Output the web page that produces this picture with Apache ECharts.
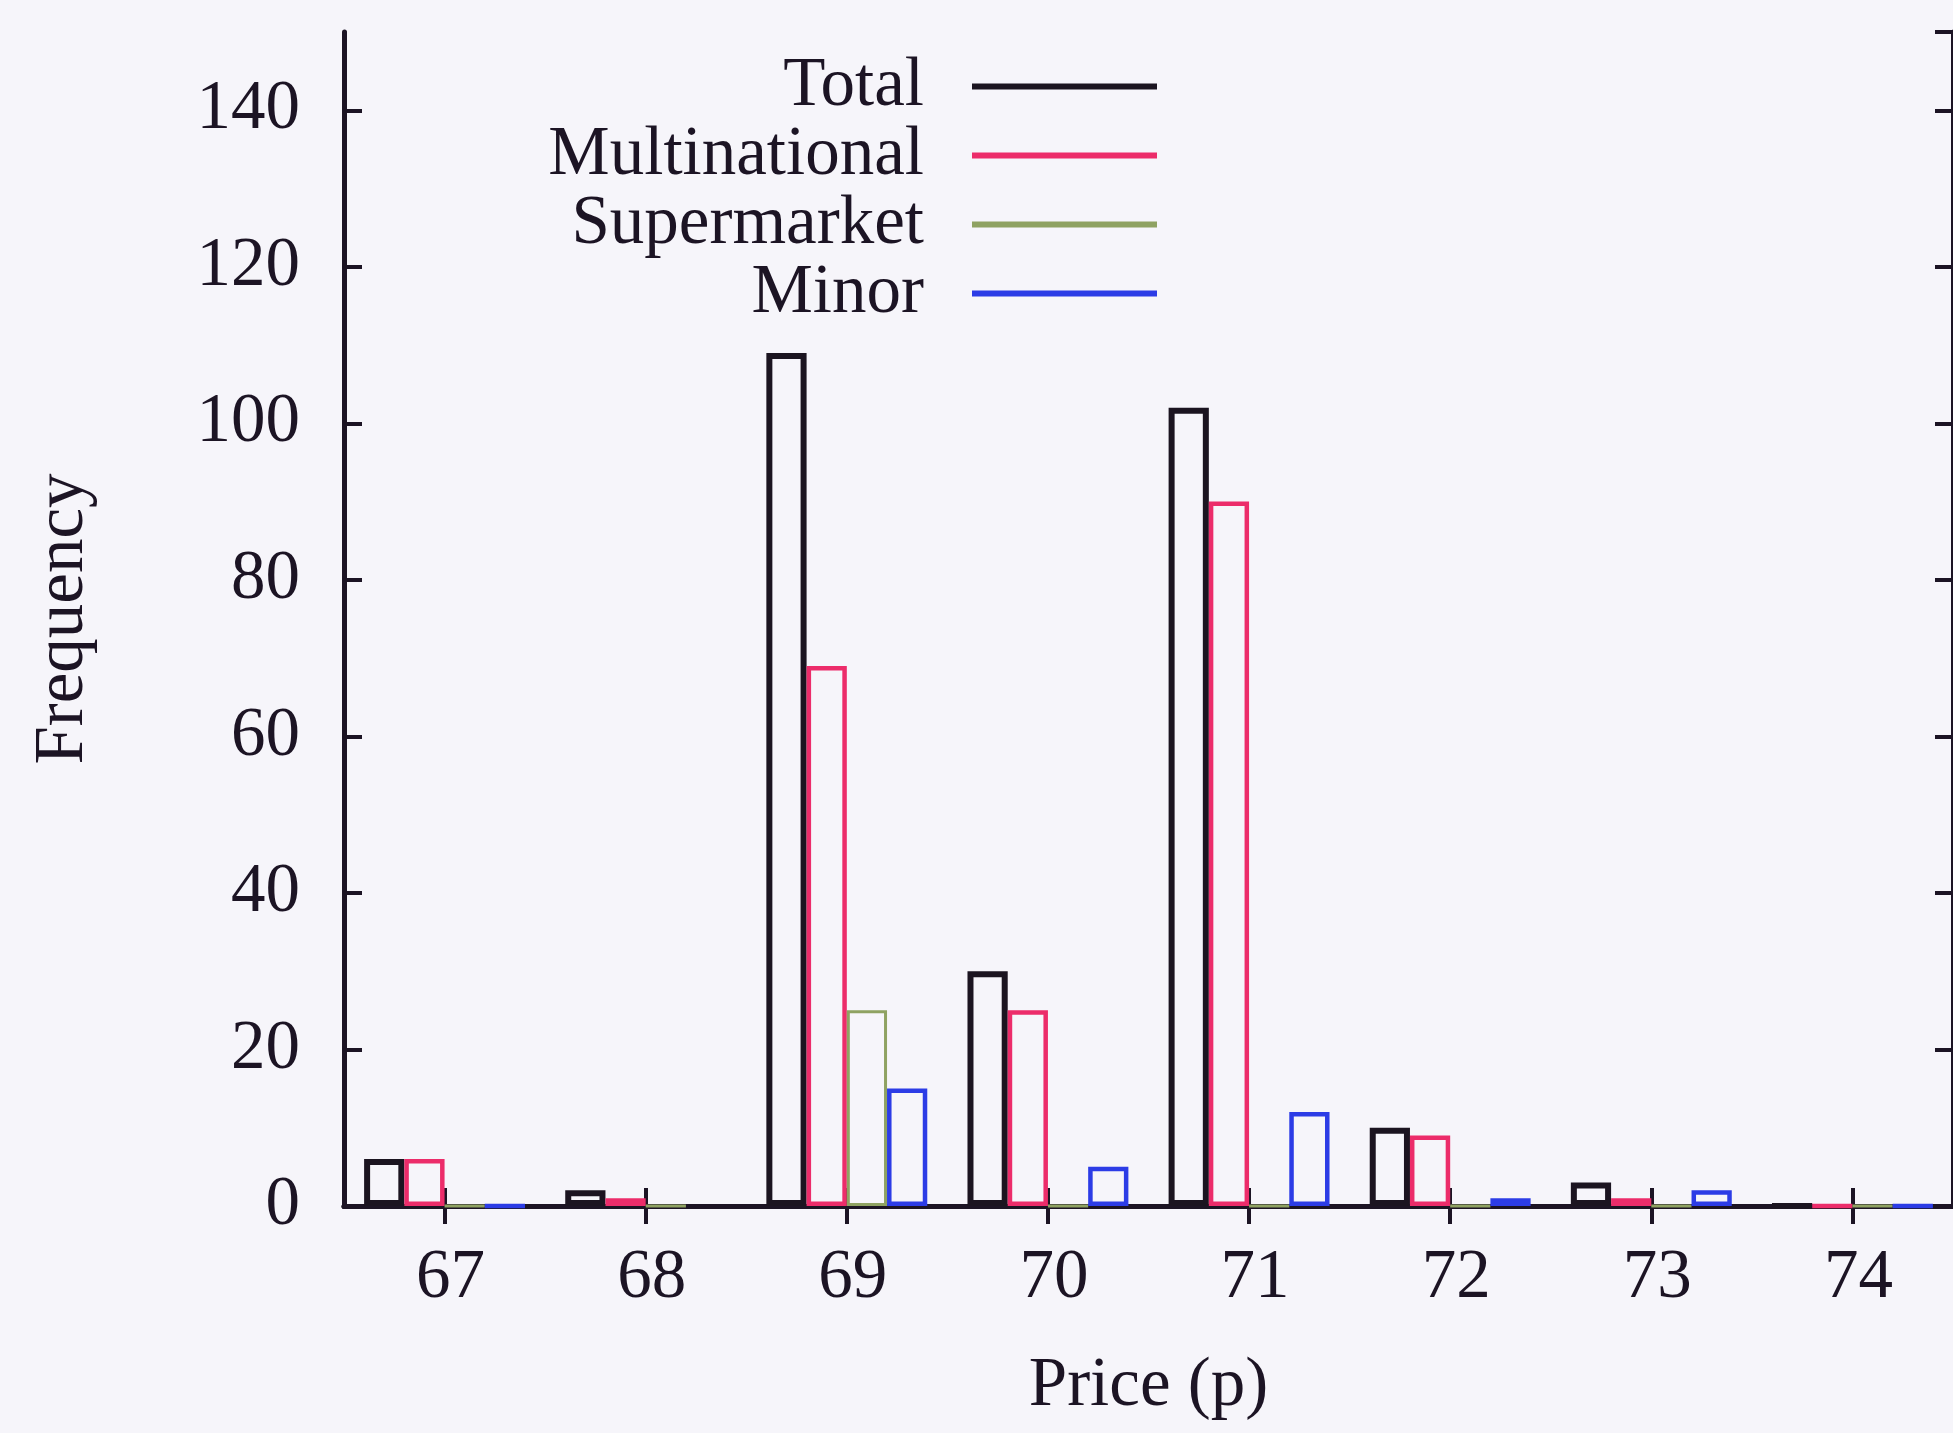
<!DOCTYPE html>
<html>
<head>
<meta charset="utf-8">
<script src="https://cdn.jsdelivr.net/npm/echarts@6/dist/echarts.min.js"></script>
<style>
  html, body { margin: 0; padding: 0; background: #f6f5fa; }
  #chart { width: 1953px; height: 1433px; }
</style>
</head>
<body>
<div id="chart"></div>
<script>
// Price points (pence) and how many stations charged each, by owner type
const prices = ['67', '68', '69', '70', '71', '72', '73', '74'];
const total = [6, 2, 109, 30, 102, 10, 3, 0];
const multinational = [6, 1, 69, 25, 90, 9, 1, 0];
const supermarket = [0, 0, 25, 0, 0, 0, 0, 0];
const minor = [0, null, 15, 5, 12, 1, 2, 0];
const yTicks = [0, 20, 40, 60, 80, 100, 120, 140];

const seriesNames = ['Total', 'Multinational', 'Supermarket', 'Minor'];
const seriesData = [total, multinational, supermarket, minor];
const seriesColors = ['#1b1420', '#ec2c6a', '#8fa262', '#2c3ce6'];
const seriesStroke = [6, 4.5, 3, 4.5];

const ink = '#1c1424';
const font = 'Liberation Serif';
const fontSize = 69;

const chart = echarts.init(document.getElementById('chart'), null, { renderer: 'canvas' });

const frameLine = { show: true, lineStyle: { color: ink, width: 5 } };
const innerTick = { show: true, inside: true, length: 18, lineStyle: { color: ink, width: 4 } };

chart.setOption({
  animation: false,
  backgroundColor: '#f6f5fa',
  grid: { left: 344, top: 32, width: 1614, height: 1174 },
  legend: {
    orient: 'vertical',
    align: 'right',
    right: 796,
    top: 52,
    padding: 0,
    itemGap: 0,
    itemWidth: 185,
    itemHeight: 6,
    icon: 'rect',
    itemStyle: { borderWidth: 0 },
    textStyle: { fontFamily: font, fontSize: fontSize, lineHeight: fontSize, color: ink, padding: [0, 43, 0, 0] },
    data: seriesNames.map((n, i) => ({ name: n, itemStyle: { color: seriesColors[i], borderWidth: 0 } }))
  },
  xAxis: [
    {
      type: 'category',
      data: prices,
      position: 'bottom',
      axisLine: frameLine,
      axisTick: Object.assign({ alignWithLabel: true }, innerTick),
      axisLabel: { margin: 38, fontFamily: font, fontSize: fontSize, color: ink, padding: [0, 0, 0, 12] },
      splitLine: { show: false },
      name: 'Price (p)',
      nameLocation: 'middle',
      nameGap: 146,
      nameTextStyle: { fontFamily: font, fontSize: fontSize, lineHeight: fontSize, color: ink }
    },
    {
      type: 'category',
      data: prices,
      position: 'top',
      axisLine: frameLine,
      axisTick: Object.assign({ alignWithLabel: true }, innerTick),
      axisLabel: { show: false },
      splitLine: { show: false }
    }
  ],
  yAxis: [
    {
      type: 'value',
      min: 0,
      max: 150,
      interval: 20,
      position: 'left',
      axisLine: frameLine,
      axisTick: innerTick,
      axisLabel: {
        margin: 44,
        fontFamily: font,
        fontSize: fontSize,
        color: ink,
        showMaxLabel: false,
        formatter: v => (yTicks.indexOf(v) >= 0 ? String(v) : '')
      },
      splitLine: { show: false },
      name: 'Frequency',
      nameLocation: 'middle',
      nameRotate: 90,
      nameGap: 246,
      nameTextStyle: { fontFamily: font, fontSize: fontSize, lineHeight: fontSize, color: ink }
    },
    {
      type: 'value',
      min: 0,
      max: 150,
      interval: 20,
      position: 'right',
      axisLine: frameLine,
      axisTick: innerTick,
      axisLabel: { show: false },
      splitLine: { show: false }
    }
  ],
  series: seriesNames.map((name, i) => ({
    name: name,
    type: 'bar',
    xAxisIndex: 0,
    yAxisIndex: 0,
    data: seriesData[i],
    barGap: '0%',
    barCategoryGap: '20%',
    itemStyle: { color: 'rgba(0,0,0,0)', borderColor: seriesColors[i], borderWidth: seriesStroke[i] },
    emphasis: { disabled: true }
  }))
});
</script>
</body>
</html>
